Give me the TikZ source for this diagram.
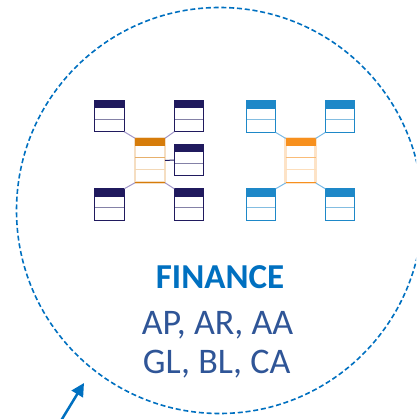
\documentclass[tikz,border=0pt]{standalone}
\usepackage{fontspec}
\setmainfont{Carlito}
\usetikzlibrary{arrows.meta}
\definecolor{navy}{RGB}{32,26,94}
\definecolor{lav}{RGB}{160,150,200}
\definecolor{tblue}{RGB}{30,136,200}
\definecolor{lblue}{RGB}{120,185,230}
\definecolor{dorange}{RGB}{214,124,10}
\definecolor{borange}{RGB}{247,144,30}
\definecolor{cblue}{RGB}{0,112,192}
\definecolor{tblue2}{RGB}{47,85,151}
\tikzset{
  tbl/.style={draw=#1, line width=1pt, minimum width=29.5pt, minimum height=31.5pt, inner sep=0pt, outer sep=0pt,
    path picture={
      \fill[#1] (path picture bounding box.north west) rectangle ([yshift=-8pt]path picture bounding box.north east);
      \draw[#1!55, line width=1pt] ([yshift=-19pt]path picture bounding box.north west) -- ([yshift=-19pt]path picture bounding box.north east);
    }},
  ctbl/.style={draw=#1!25, line width=2.5pt, minimum width=30pt, minimum height=44.5pt, inner sep=0pt, outer sep=0pt},
  link/.style={draw=#1, line width=1pt},
  txt/.style={anchor=base, inner sep=0pt}
}
\newcommand\ctinner[2]{%
  \fill[#2] (#1.north west) rectangle ([yshift=-8pt]#1.north east);
  \draw[#2!60, line width=1pt] ([yshift=-19.5pt]#1.north west) -- ([yshift=-19.5pt]#1.north east);
  \draw[#2!30, line width=1pt] ([yshift=-31pt]#1.north west) -- ([yshift=-31pt]#1.north east);
  \draw[#2, line width=1pt] (#1.south west) -- (#1.south east);
}
\begin{document}
\begin{tikzpicture}[x=1pt,y=-1pt]
\useasboundingbox (0,0) rectangle (416,419);
\clip (0,0) rectangle (416,419);
% boundary circle
\node[circle, draw=cblue, line width=1.6pt, dash pattern=on 5pt off 2.8pt, minimum size=406pt, inner sep=0pt] (boundary) at (219.5,210.5) {};
% left group
\node[ctbl=dorange] (c1) at (150,160.5) {};
\ctinner{c1}{dorange}
\node[tbl=navy] (l1) at (109.5,116) {};
\node[tbl=navy] (l2) at (189,116) {};
\node[tbl=navy] (l3) at (189,160) {};
\node[tbl=navy] (l4) at (109.5,204.5) {};
\node[tbl=navy] (l5) at (189,204.5) {};
\draw[link=lav] (l1.south east) -- (c1.north west);
\draw[link=lav] (l2.south west) -- (c1.north east);
\draw[link=navy] (c1.east) -- (l3.west);
\draw[link=lav] (c1.south west) -- (l4.north east);
\draw[link=lav] (c1.south east) -- (l5.north west);
% right group
\node[ctbl=borange] (c2) at (300.7,160.7) {};
\ctinner{c2}{borange}
\node[tbl=tblue] (r1) at (261,116.7) {};
\node[tbl=tblue] (r2) at (340,116.7) {};
\node[tbl=tblue] (r4) at (261,204.5) {};
\node[tbl=tblue] (r5) at (340,204.5) {};
\draw[link=lblue] (r1.south east) -- (c2.north west);
\draw[link=lblue] (r2.south west) -- (c2.north east);
\draw[link=lblue] (c2.south west) -- (r4.north east);
\draw[link=lblue] (c2.south east) -- (r5.north west);
% texts
\node[txt, text=cblue, font=\bfseries\fontsize{35}{42}\selectfont] (fin) at (220,288) {FINANCE};
\node[txt, text=tblue2, font=\fontsize{36}{43}\selectfont] (l1txt) at (217.5,334) {AP, AR, AA};
\node[txt, text=tblue2, font=\fontsize{36}{43}\selectfont] (l2txt) at (216.7,373) {GL, BL, CA};
% arrow
\coordinate (atail) at (59,424);
\coordinate (ahead) at (84,383);
\draw[cblue, line width=2.5pt, -{Triangle[length=13pt,width=13pt]}] (atail) -- (ahead);
\end{tikzpicture}
\end{document}
